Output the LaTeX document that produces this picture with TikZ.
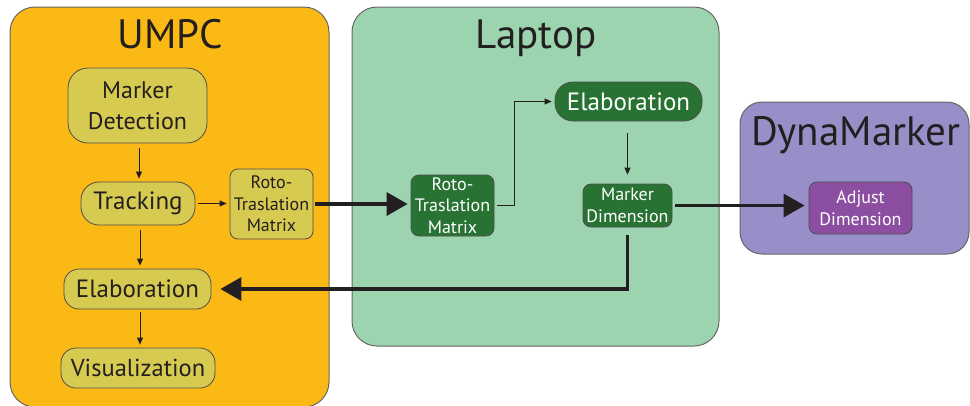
\documentclass[tikz,border=0pt]{standalone}
\usepackage{fontspec}
\setmainfont{PT Sans}
\usetikzlibrary{arrows.meta}
\definecolor{umpc}{RGB}{251,185,21}
\definecolor{laptop}{RGB}{155,212,174}
\definecolor{dyna}{RGB}{152,143,201}
\definecolor{ynode}{RGB}{214,203,80}
\definecolor{gnode}{RGB}{40,115,52}
\definecolor{pnode}{RGB}{140,78,160}
\definecolor{ink}{RGB}{35,31,32}
\begin{document}
\begin{tikzpicture}[x=1pt,y=-1pt,
  container/.style={draw=black!60, line width=1pt, inner sep=0pt},
  title/.style={anchor=base, text=ink},
  ybox/.style={draw=ink!80, fill=ynode, line width=0.8pt, inner sep=0pt, align=center, text=ink},
  gbox/.style={draw=ink!80, fill=gnode, line width=0.8pt, inner sep=0pt, align=center, text=white},
  pbox/.style={draw=ink!80, fill=pnode, line width=0.8pt, inner sep=0pt, align=center, text=white},
  thinarrow/.style={draw=ink, line width=0.9pt, -{Triangle[length=7pt,width=6pt]}},
  thickarrow/.style={draw=ink, line width=3.5pt, -{Triangle[length=21pt,width=23pt]}},
  big/.style={font=\fontsize{24}{31}\selectfont},
  small/.style={font=\fontsize{18}{21.5}\selectfont}
]
\useasboundingbox (0,0) rectangle (970,405);
% containers
\node[container, fill=umpc, rounded corners=25pt, minimum width=319pt, minimum height=400pt] (umpcbox) at (169.5,207) {};
\node[container, fill=laptop, rounded corners=25pt, minimum width=367pt, minimum height=339pt] (lapbox) at (535.5,176.5) {};
\node[container, fill=dyna, rounded corners=22pt, minimum width=229pt, minimum height=152pt] (dynabox) at (854.5,178) {};
\node[title, font=\fontsize{41}{41}\selectfont] (umpct) at (170,48) {UMPC};
\node[title, font=\fontsize{41}{41}\selectfont] (lapt) at (536,48) {Laptop};
\node[title, font=\fontsize{41}{41}\selectfont] (dynat) at (856,145) {DynaMarker};
% UMPC nodes
\node[ybox, big, rounded corners=20pt, minimum width=139pt, minimum height=75pt] (md) at (137.5,105.5) {Marker\\Detection};
\node[ybox, rounded corners=18pt, minimum width=114pt, minimum height=43pt, font=\fontsize{25}{30}\selectfont] (trk) at (138,203.5) {Tracking};
\node[ybox, small, rounded corners=8pt, minimum width=83pt, minimum height=70pt] (rotoy) at (271.5,204) {Roto-\\Traslation\\Matrix};
\node[ybox, rounded corners=15pt, minimum width=147pt, minimum height=40pt, font=\fontsize{25}{30}\selectfont] (elaby) at (137.5,289) {Elaboration};
\node[ybox, rounded corners=15pt, minimum width=154pt, minimum height=40pt, font=\fontsize{24.5}{30}\selectfont] (vis) at (138,368) {Visualization};
% Laptop nodes
\node[gbox, small, rounded corners=8pt, minimum width=83pt, minimum height=61pt] (rotog) at (452.5,205.5) {Roto-\\Traslation\\Matrix};
\node[gbox, rounded corners=18pt, minimum width=147pt, minimum height=39pt, font=\fontsize{25}{30}\selectfont] (elabg) at (628.5,101.5) {Elaboration};
\node[gbox, small, rounded corners=8pt, minimum width=89pt, minimum height=43pt] (mdim) at (627.5,205.5) {Marker\\Dimension};
% DynaMarker node
\node[pbox, small, rounded corners=8pt, minimum width=103pt, minimum height=52pt] (adj) at (860.5,208) {Adjust\\Dimension};
% connectors
\draw[thinarrow, shorten <=5pt, shorten >=3pt] (md.south -| 139,0) -- (trk.north -| 139,0);
\draw[thinarrow, shorten <=5pt, shorten >=3pt] (trk.south -| 140,0) -- (elaby.north -| 140,0);
\draw[thinarrow, shorten <=3pt, shorten >=3pt] (elaby.south -| 140,0) -- (vis.north -| 140,0);
\draw[thinarrow, shorten <=3pt, shorten >=3pt] (trk.east) -- (trk.east -| rotoy.west);
\draw[thickarrow, shorten <=2pt, shorten >=3pt] (rotoy.east) -- (rotoy.east -| rotog.west);
\draw[thinarrow, shorten >=3pt] ([xshift=3pt]rotog.east) -- ++(17,0) |- (elabg.west);
\draw[thinarrow, shorten <=12pt, shorten >=9pt] (elabg.south -| mdim.south) -- (mdim.north);
\draw[thickarrow, shorten <=3pt, shorten >=4pt] (mdim.east) -- (mdim.east -| adj.west);
\draw[thickarrow, shorten <=8pt, shorten >=9pt] (mdim.south) |- (elaby.east);
\end{tikzpicture}
\end{document}
